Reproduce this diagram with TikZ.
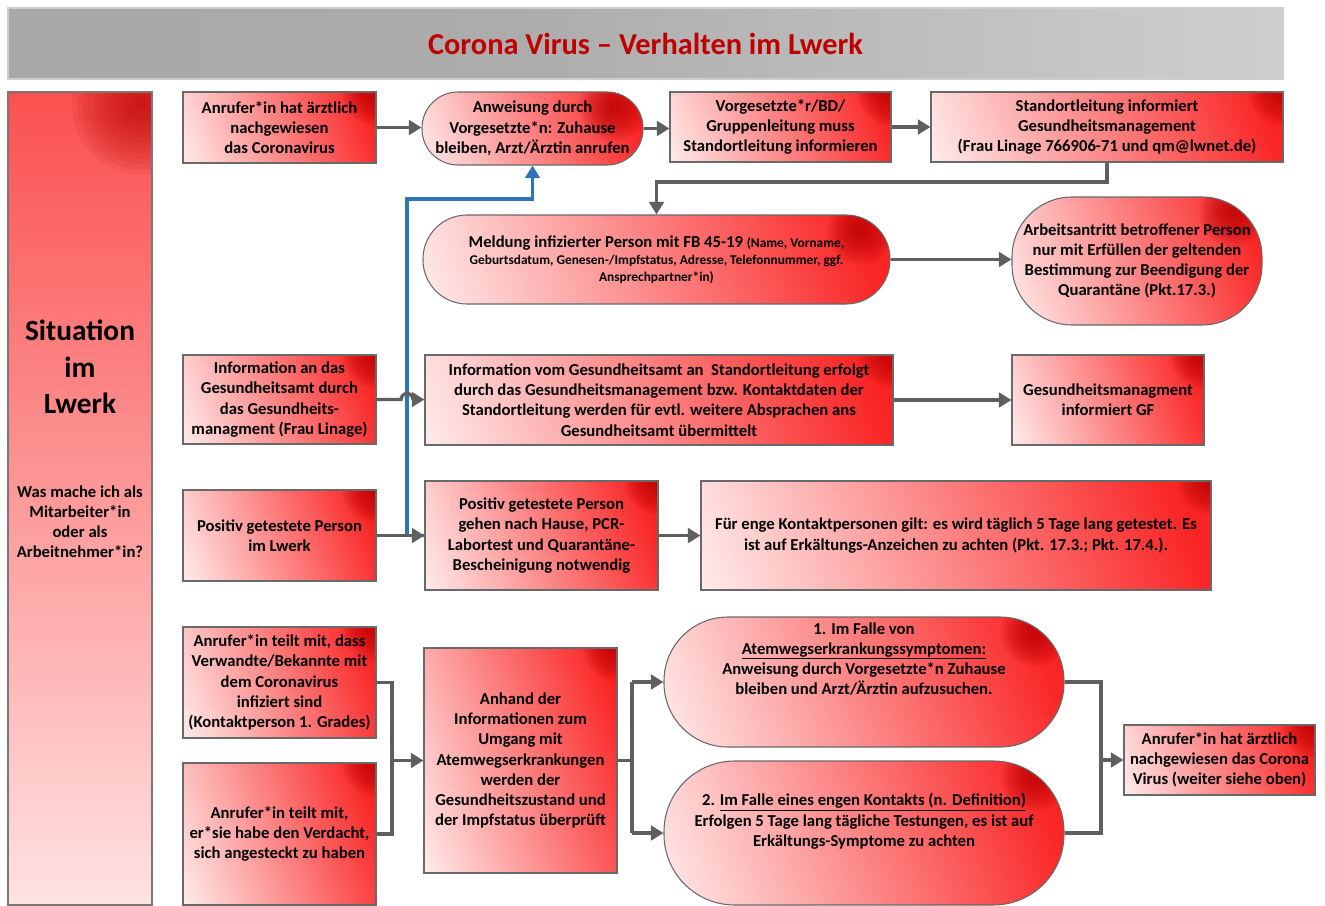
\documentclass[tikz,border=0pt]{standalone}
\usepackage{fontspec}
\setmainfont{Carlito}
\usetikzlibrary{arrows.meta,calc}
\definecolor{myred}{RGB}{250,36,36}
\definecolor{mydark}{RGB}{185,0,0}
\definecolor{lgray}{RGB}{95,95,95}
\definecolor{bordergray}{RGB}{105,105,105}
\definecolor{blueline}{RGB}{46,117,182}
\definecolor{titlered}{RGB}{192,0,0}
\definecolor{tgA}{RGB}{163,163,163}
\definecolor{tgB}{RGB}{172,172,172}
\definecolor{tgC}{RGB}{236,236,236}
\definecolor{tborder}{RGB}{205,205,205}
\definecolor{sborder}{RGB}{120,120,120}
\newcommand\myul[1]{\vtop{\hbox{#1}\kern0.9pt\hrule height 0.6pt}}
\pgfdeclarehorizontalshading{boxshade}{100bp}{color(0bp)=(white); color(12bp)=(white); color(78bp)=(myred); color(100bp)=(myred)}
\pgfdeclareverticalshading{sideshade}{100bp}{color(0bp)=(white); color(15bp)=(white); color(90bp)=(myred); color(100bp)=(myred)}
\pgfdeclarehorizontalshading{titleshade}{100bp}{color(0bp)=(tgA); color(45bp)=(tgB); color(100bp)=(tgC)}
\tikzset{
  every node/.style={font=\bfseries\fontsize{12.5}{15.2}\selectfont, align=center, inner sep=0pt, text=black},
  sz/.style 2 args={minimum width=#1*0.75pt, minimum height=#2*0.75pt},
  rbox/.style={draw=bordergray, line width=0.8pt, shade, shading=boxshade, shading angle=20,
    path picture={\foreach \r in {3,5,...,25} {\fill[mydark, fill opacity=0.11] (path picture bounding box.north east) circle (\r pt);}}},
  sbox/.style={draw=bordergray, line width=0.8pt, shade, shading=boxshade, shading angle=20, rounded corners=#1,
    path picture={\foreach \r in {3,5,...,25} {\fill[mydark, fill opacity=0.10] ($(path picture bounding box.north east)+(-22pt,-12pt)$) circle (\r pt);}}},
  conn/.style={draw=lgray, line width=2.5pt},
  arr/.style={conn, -{Triangle[length=9.5pt,width=11pt]}},
  bluearr/.style={draw=blueline, line width=2.5pt, -{Triangle[length=9.5pt,width=11pt]}},
}
\begin{document}
\begin{tikzpicture}[x=0.75pt, y=-0.75pt]
\useasboundingbox (0,0) rectangle (1325,906);
\fill[white] (0,0) rectangle (1325,906);
% title bar
\node[draw=tborder, line width=0.8pt, shade, shading=titleshade, sz={1275}{71},
  text=titlered, font=\bfseries\fontsize{22.8}{27}\selectfont] (T) at (645.5,43.5) {Corona Virus -- Verhalten im Lwerk};
% sidebar
\node[draw=sborder, line width=0.8pt, shade, shading=sideshade, sz={144}{813},
  path picture={\foreach \r in {4,8,...,52} {\fill[mydark, fill opacity=0.08] ($(path picture bounding box.north east)+(-8pt,-10pt)$) circle (\r pt);}}] (S) at (80,498.5) {};
\node[font=\bfseries\fontsize{22}{27.4}\selectfont] (S1) at (80,367) {Situation\\im\\Lwerk};
\node[font=\bfseries\fontsize{12.5}{15}\selectfont] (S2) at (80,522) {Was mache ich als\\Mitarbeiter*in\\oder als\\Arbeitnehmer*in?};
% row 1
\node[rbox, sz={193}{71}] (A1) at (279.5,127.5) {Anrufer*in hat ärztlich\\nachgewiesen\\das Coronavirus};
\node[sbox=27pt, sz={221}{73}] (A2) at (532.5,128.5) {Anweisung durch\\Vorgesetzte*n: Zuhause\\bleiben, Arzt/Ärztin anrufen};
\node[rbox, sz={221}{70}] (A3) at (780.5,127) {Vorgesetzte*r/BD/\\Gruppenleitung muss\\Standortleitung informieren};
\node[rbox, sz={352}{70}] (A4) at (1107,127) {Standortleitung informiert\\Gesundheitsmanagement\\(Frau Linage 766906-71 und qm@lwnet.de)};
% row 2
\node[sbox=33pt, sz={467}{89}] (B1) at (656.5,259.5) {Meldung infizierter Person mit FB 45-19 {\fontsize{10}{12}\selectfont(Name, Vorname,}\\[-2pt]
  {\fontsize{10}{12.6}\selectfont Geburtsdatum, Genesen-/Impfstatus, Adresse, Telefonnummer, ggf.}\\[-2.5pt]
  {\fontsize{10}{12.6}\selectfont Ansprechpartner*in)}};
\node[sbox=45pt, sz={250}{128}] (B2) at (1137,261) {Arbeitsantritt betroffener Person\\nur mit Erfüllen der geltenden\\Bestimmung zur Beendigung der\\Quarantäne (Pkt.17.3.)};
% row 3
\node[rbox, sz={193}{89}] (C1) at (279.5,399.5) {Information an das\\Gesundheitsamt durch\\das Gesundheits-\\managment (Frau Linage)};
\node[rbox, sz={468}{90}] (C2) at (659,400) {Information vom Gesundheitsamt an~~Standortleitung erfolgt\\durch das Gesundheitsmanagement bzw. Kontaktdaten der\\Standortleitung werden für evtl. weitere Absprachen ans\\Gesundheitsamt übermittelt};
\node[rbox, sz={192}{90}] (C3) at (1108,400) {Gesundheitsmanagment\\informiert GF};
% row 4
\node[rbox, sz={193}{91}] (D1) at (279.5,535.5) {Positiv getestete Person\\im Lwerk};
\node[rbox, sz={233}{109}] (D2) at (541.5,535.5) {Positiv getestete Person\\gehen nach Hause, PCR-\\Labortest und Quarantäne-\\Bescheinigung notwendig};
\node[rbox, sz={510}{109}] (D3) at (956,535.5) {Für enge Kontaktpersonen gilt: es wird täglich 5 Tage lang getestet. Es\\ist auf Erkältungs-Anzeichen zu achten (Pkt. 17.3.; Pkt. 17.4.).};
% row 5
\node[rbox, sz={193}{111}] (E1) at (279.5,682.5) {Anrufer*in teilt mit, dass\\Verwandte/Bekannte mit\\dem Coronavirus\\infiziert sind\\(Kontaktperson 1. Grades)};
\node[rbox, sz={193}{142}] (E2) at (279.5,834) {Anrufer*in teilt mit,\\er*sie habe den Verdacht,\\sich angesteckt zu haben};
\node[rbox, sz={193}{225}] (E3) at (520.5,760.5) {Anhand der\\Informationen zum\\Umgang mit\\Atemwegserkrankungen\\werden der\\Gesundheitszustand und\\der Impfstatus überprüft};
\node[sbox=48pt, sz={400}{130}] (E4) at (864,682) {1. Im Falle von\\\myul{Atemwegserkrankungssymptomen:}\\Anweisung durch Vorgesetzte*n Zuhause\\bleiben und Arzt/Ärztin aufzusuchen.\\\strut\\\strut};
\node[sbox=53pt, sz={400}{144}] (E5) at (864,833) {2. \myul{Im Falle eines engen Kontakts (n. Definition)}\\Erfolgen 5 Tage lang tägliche Testungen, es ist auf\\Erkältungs-Symptome zu achten\\\strut};
\node[rbox, sz={191}{70}] (E6) at (1219.5,760) {Anrufer*in hat ärztlich\\nachgewiesen das Corona\\Virus (weiter siehe oben)};
% connectors row 1
\draw[arr] (A1.east) -- (A1.east -| A2.west);
\draw[arr] (A2.east) -- (A2.east -| A3.west);
\draw[arr] (A3.east) -- (A3.east -| A4.west);
\coordinate (k1) at (1107,182);
\draw[arr] (A4.south) -- (k1) -| (B1.north);
\draw[arr] (B1.east) -- (B1.east -| B2.west);
% blue connector
\coordinate (b1) at (407,535.5);
\coordinate (b2) at (407,199);
\coordinate (b3) at (532.5,199);
\draw[bluearr] (D2.west) -- (b1) -- (b2) -- (b3) -- (A2.south);
% row 3
\coordinate (h1) at (401,399.5);
\draw[arr] (C1.east) -- (h1) arc[start angle=180, end angle=0, radius=4.5pt] -- (C1.east -| C2.west);
\draw[arr] (C2.east) -- (C2.east -| C3.west);
% row 4
\draw[arr] (D1.east) -- (D2.west);
\draw[arr] (D2.east) -- (D2.east -| D3.west);
% row 5
\coordinate (j1) at (392,682.5);
\coordinate (j2) at (392,834);
\coordinate (j3) at (392,760.5);
\draw[conn] (E1.east) -- (j1) -- (j2) -- (E2.east);
\draw[arr] (j3) -- (E3.west);
\coordinate (m0) at (632,760.5);
\coordinate (m1) at (632,682);
\coordinate (m2) at (632,833);
\draw[conn] (E3.east) -- (m0);
\draw[conn] (m1) -- (m2);
\draw[arr] (m1) -- (E4.west);
\draw[arr] (m2) -- (E5.west);
\coordinate (n1) at (1101,682);
\coordinate (n2) at (1101,833);
\coordinate (n3) at (1101,760);
\draw[conn] (E4.east) -- (n1) -- (n2) -- (E5.east);
\draw[arr] (n3) -- (E6.west);
\end{tikzpicture}
\end{document}
